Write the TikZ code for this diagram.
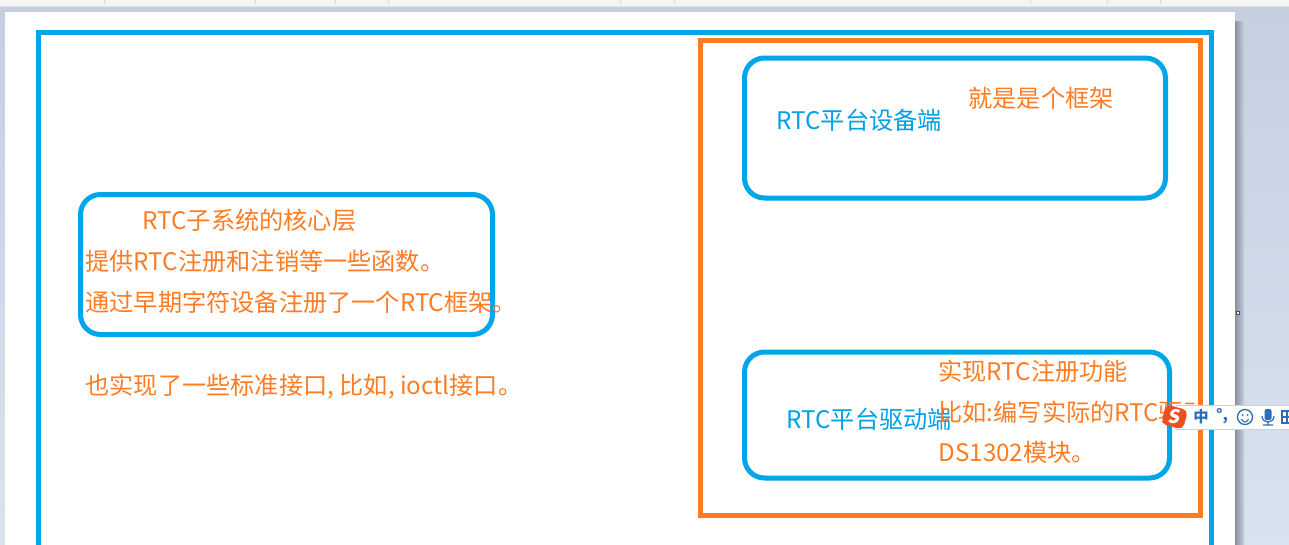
\documentclass[tikz,border=0pt]{standalone}
\usepackage{fontspec}
\setmainfont{Noto Sans CJK SC}
\usetikzlibrary{calc}
\definecolor{fbl}{HTML}{00A6E9}
\definecolor{tbl}{HTML}{00A0E6}
\definecolor{fog}{HTML}{FF7C22}
\definecolor{bgt}{HTML}{C5CFE0}
\definecolor{bgb}{HTML}{D8E2F0}
\definecolor{ime}{HTML}{2A6EBB}
\definecolor{slg}{HTML}{EE4F1E}
\tikzset{
  x=0.75pt,y=-0.75pt,
  bluebox/.style={draw=fbl,line width=3.75pt,rounded corners=15pt,outer sep=0pt,inner sep=0pt,anchor=north west},
  sqbox/.style={line width=3.75pt,miter limit=10,outer sep=0pt},
  lab/.style={anchor=base west,inner sep=0pt,outer sep=0pt,font=\fontsize{18.15}{18.15}\selectfont},
  otext/.style={lab,text=fog},
  btext/.style={lab,text=tbl},
}
\begin{document}
\begin{tikzpicture}
\useasboundingbox (0,0) rectangle (1289,544);
% window background
\shade[top color=bgt,bottom color=bgb] (0,6) rectangle (1289,548);
\fill[black!4] (0,0) rectangle (1289,6);
\fill[black!12] (0,6) rectangle (1289,7);
\foreach \tx in {104,255,335,388,620,674,1030,1107,1160}{\fill[black!15] (\tx,0) rectangle (\tx+1,4);}
% page
\shade[left color=black!30!bgt,right color=bgt] (1235,21) rectangle (1244,548);
\fill[white] (5,12) rectangle (1235,548);
% frames
\draw[fbl,sqbox] (38.5,560) -- (38.5,32.5) -- (1211.5,32.5) -- (1211.5,560);
\node[draw=fog,sqbox,inner sep=0pt,minimum width=500*0.75pt,minimum height=475*0.75pt,anchor=north west] (inner) at (700.5,40.5) {};
\node[bluebox,minimum width=421*0.75pt,minimum height=140*0.75pt] (dev) at (744.5,58) {};
\node[bluebox,minimum width=425*0.75pt,minimum height=126*0.75pt] (drv) at (744.5,352) {};
\node[bluebox,minimum width=412*0.75pt,minimum height=140*0.75pt] (core) at (80.5,194.5) {};
% left texts
\node[otext] (c1) at (142.5,229.5) {RTC子系统的核心层};
\node[otext] (c2) at (85.5,270.5) {提供RTC注册和注销等一些函数。};
\node[otext] (c3) at (85.5,311.5) {通过早期字符设备注册了一个RTC框架。};
\node[otext] (c4) at (85.5,394.5) {也实现了一些标准接口, 比如, ioctl接口。};
% right texts
\node[btext] (d1) at (776.5,129) {RTC平台设备端};
\node[otext] (d2) at (968.5,107.5) {就是是个框架};
\node[btext] (r1) at (786.5,428.5) {RTC平台驱动端};
\node[otext] (r2) at (938.5,380.5) {实现RTC注册功能};
\node[otext] (r3) at (938.5,421.5) {比如:编写实际的RTC驱动};
\node[otext] (r4) at (938.5,461.5) {DS1302模块。};
% input-method bar
\fill[white] (1176,405) rectangle (1289,429);
\draw[black!18,line width=0.6pt] (1176,405) -- (1289,405) (1176,429) -- (1289,429);
\node[rounded corners=4pt,fill=slg,rotate=-15,minimum width=17pt,minimum height=15pt,inner sep=0pt] (slogo) at (1174.5,417) {};
\node[inner sep=0pt,text=white,xslant=0.2,font=\fontsize{14}{14}\selectfont\bfseries] (sl) at (slogo) {S};
\node[inner sep=0pt,text=ime,font=\fontsize{11.5}{11.5}\selectfont\bfseries] (zh) at (1201,417) {中};
\node[inner sep=0pt,text=ime,font=\fontsize{11.5}{11.5}\selectfont\bfseries] (pt) at (1222,416) {°,};
\draw[ime,line width=1pt] (1245,417) circle (7.5);
\fill[ime] (1242.5,415) circle (1) (1247.5,415) circle (1);
\draw[ime,line width=0.8pt] (1241.5,419) .. controls (1243,423) and (1247,423) .. (1248.5,419);
\fill[ime,rounded corners=1.5pt] (1264.5,409) rectangle (1271.5,420);
\draw[ime,line width=0.9pt] (1262,416) .. controls (1262,424) and (1274,424) .. (1274,416) (1268,422) -- (1268,425) (1263,425) -- (1273,425);
\draw[ime,line width=1pt] (1282,411) rectangle (1292,423) (1282,417) -- (1292,417) (1287,411) -- (1287,423);
% small handle
\node[draw=black!70,fill=white,line width=0.5pt,minimum size=2.5pt,inner sep=0pt] (handle) at (1237.5,312.5) {};
\end{tikzpicture}
\end{document}
